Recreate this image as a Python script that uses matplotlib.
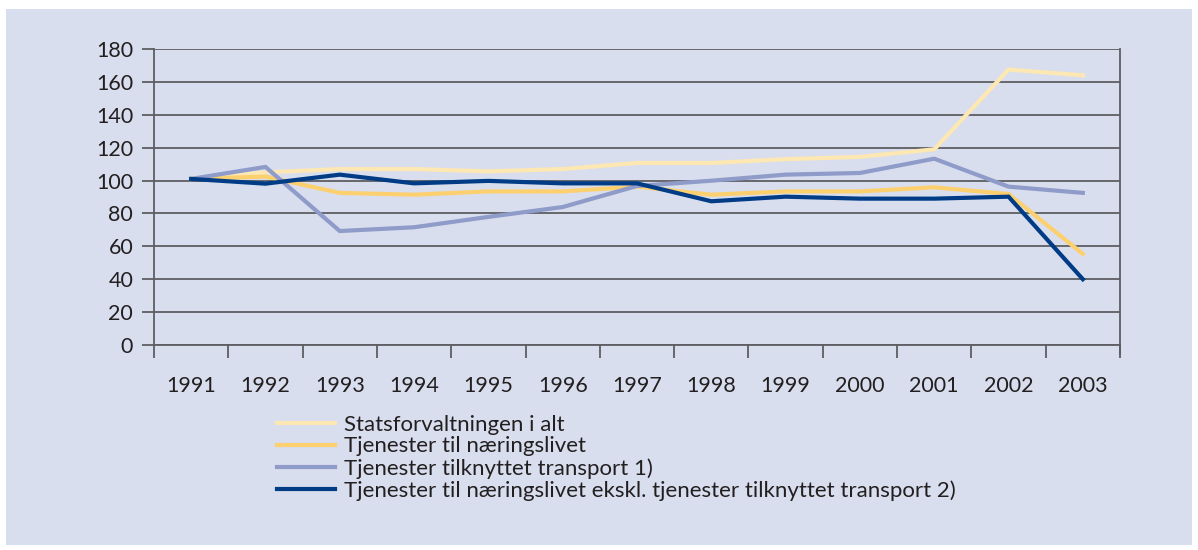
import matplotlib
matplotlib.use("Agg")
from matplotlib import pyplot as plt
from matplotlib.patches import Rectangle

years = ["1991", "1992", "1993", "1994", "1995", "1996", "1997",
         "1998", "1999", "2000", "2001", "2002", "2003"]
statsforvaltningen = [101, 105, 107, 107, 105.6, 107, 110.7, 110.7, 113, 114.4, 119, 167.5, 164]
naeringslivet = [101, 102.4, 92.5, 91.4, 93.4, 93.4, 96.3, 91.4, 93.4, 93.4, 95.9, 91.8, 55.4]
transport = [101, 108.3, 69.3, 71.6, 77.9, 83.9, 96.7, 99.9, 103.6, 104.6, 113.3, 96.3, 92.5]
ekskl_transport = [101, 98.1, 103.6, 98.3, 99.8, 98.3, 98.3, 87.4, 90.2, 89, 89, 90.2, 40]

labels = ["Statsforvaltningen i alt",
          "Tjenester til næringslivet",
          "Tjenester tilknyttet transport 1)",
          "Tjenester til næringslivet ekskl. tjenester tilknyttet transport 2)"]
colors = ["#fde7b2", "#fcd06f", "#8f9bc9", "#003c86"]

bg = "#d9deee"
txt = "#231f20"
grid_c = "#5e5e62"

plt.rcParams['font.family'] = ['Lato', 'DejaVu Sans']

fig = plt.figure(figsize=(11.98, 5.5), dpi=100)
fig.patch.set_facecolor("white")
# lys bakgrunnsboks
fig.add_artist(Rectangle((6 / 1198, 5 / 550), 1186 / 1198, 536 / 550,
                         transform=fig.transFigure, facecolor=bg, edgecolor="none", zorder=-10))

ax = fig.add_axes([154 / 1198, 1 - 345 / 550, 966 / 1198, 296 / 550])
ax.set_facecolor(bg)

x = list(range(len(years)))
for serie, c in zip([statsforvaltningen, naeringslivet, transport, ekskl_transport], colors):
    ax.plot(x, serie, color=c, lw=3.0, solid_joinstyle="miter")

ax.set_xlim(-0.5, len(years) - 0.5)
ax.set_ylim(0, 180)
ax.set_yticks(range(0, 181, 20))
ax.yaxis.grid(True, color=grid_c, lw=1.3)
ax.set_axisbelow(True)

ax.set_xticks([i - 0.5 for i in range(len(years) + 1)])
ax.set_xticklabels([])
ax.set_xticks(x, minor=True)
ax.set_xticklabels(years, minor=True)
ax.tick_params(axis="x", which="major", length=9, width=1.3, color=grid_c, direction="out")
ax.tick_params(axis="x", which="minor", length=0, pad=22, labelsize=15.5, labelcolor=txt)
ax.tick_params(axis="y", length=9, width=1.3, color=grid_c, labelsize=15.5, labelcolor=txt, pad=6)

ax.spines["top"].set_visible(False)
for side in ["left", "right", "bottom"]:
    ax.spines[side].set_color(grid_c)
    ax.spines[side].set_linewidth(1.3)
ax.spines["left"].set_bounds(0, 180)
ax.plot([1, 1], [-0.03, 0], transform=ax.transAxes, color=grid_c, lw=1.3, clip_on=False)

handles = ax.get_lines()[:4]
fig.legend(handles, labels, loc="upper left", bbox_to_anchor=(268 / 1198, 1 - 406 / 550),
           frameon=False, fontsize=16, handlelength=2.6, handletextpad=0.4,
           labelspacing=0.07, labelcolor=txt, borderaxespad=0)

fig.savefig("out.png", dpi=100, facecolor=fig.get_facecolor())
